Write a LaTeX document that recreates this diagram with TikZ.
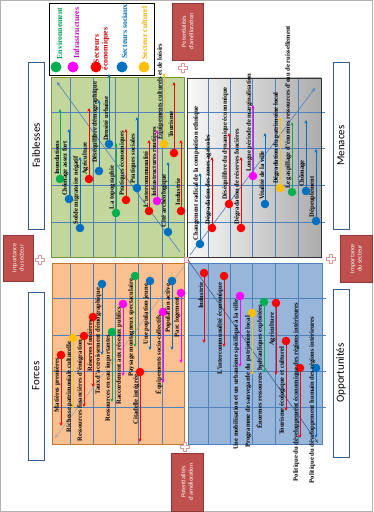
\documentclass[tikz,border=0pt]{standalone}
\usepackage{fontspec}
\setmainfont{Liberation Serif}
\newfontfamily\carl{Carlito}
\usetikzlibrary{arrows.meta,calc}
\definecolor{cgreen}{HTML}{00B050}
\definecolor{cmag}{HTML}{FF00FF}
\definecolor{cred}{HTML}{FF0000}
\definecolor{cblue}{HTML}{0070C0}
\definecolor{cyel}{HTML}{FFC000}
\definecolor{qgreen}{HTML}{C3D69B}
\definecolor{qgreenb}{HTML}{77933C}
\definecolor{qorange}{HTML}{FAC090}
\definecolor{qoranb}{HTML}{C07830}
\definecolor{qblue}{HTML}{98B6DA}
\definecolor{qblueb}{HTML}{4F81BD}
\definecolor{gridblue}{HTML}{4F81BD}
\definecolor{sideblue}{HTML}{385D8A}
\definecolor{redfill}{HTML}{C0504D}
\definecolor{redborder}{HTML}{8C3836}
\definecolor{pluspink}{HTML}{E09A9A}
\definecolor{legred}{HTML}{D00000}
\definecolor{legmag}{HTML}{C000C0}
\definecolor{leggreen}{HTML}{00A050}
\definecolor{legyel}{HTML}{F0B000}
\definecolor{diagdark}{HTML}{3A5F8F}
\tikzset{
  dotnode/.style={circle,inner sep=0,outer sep=0,minimum size=8.6bp,draw=none},
  itarrow/.style={line width=0.7bp,-{Stealth[length=3.6bp,width=3.2bp]}},
  itlabel/.style={rotate=90,inner sep=0,outer sep=0,font=\fontsize{6.6}{7}\selectfont\bfseries},
  gridline/.style={draw=gridblue,line width=0.6bp},
  sidebox/.style={rotate=90,draw=sideblue,line width=0.9bp,fill=white,inner sep=0,font=\carl\fontsize{11}{13}\selectfont},
  redbox/.style={rotate=90,draw=redborder,fill=redfill,line width=0.8bp,inner sep=0,text=white,align=center,font=\carl\fontsize{6.2}{7.4}\selectfont},
  legtext/.style={rotate=90,inner sep=0,align=center,font=\fontsize{7.8}{8.6}\selectfont\bfseries},
  legdot/.style={circle,inner sep=0,minimum size=11bp,draw=none},
  plusst/.style={draw=pluspink,fill=white,line width=0.8bp},
  diag/.style={line width=0.6bp,-{Stealth[length=4bp,width=3.5bp]}}
}
\newcommand\upit[7]{%
  \node[dotnode,fill=#2] (#1) at (#3,#4) {};
  \coordinate (#1tip) at (#3,#5);
  \draw[itarrow,color=#2] (#1) -- (#1tip);
  \node[itlabel,anchor=south west] (#1lab) at (#3-0.8,#6) {#7};
}
\newcommand\dnit[7]{%
  \node[dotnode,fill=#2] (#1) at (#3,#4) {};
  \coordinate (#1tip) at (#3,#5);
  \draw[itarrow,color=#2] (#1) -- (#1tip);
  \node[itlabel,anchor=south east] (#1lab) at (#3-0.8,#6) {#7};
}
\newcommand\plusat[1]{%
  \draw[plusst] ([shift={(-1.6,-4.6)}]#1) -- ++(3.2,0) -- ++(0,3) -- ++(3,0) -- ++(0,3.2) -- ++(-3,0) -- ++(0,3) -- ++(-3.2,0) -- ++(0,-3) -- ++(-3,0) -- ++(0,-3.2) -- ++(3,0) -- cycle;
}
\begin{document}
\begin{tikzpicture}[x=1bp,y=-1bp]
\useasboundingbox (0,0) rectangle (373,512);
\fill[white] (0,0) rectangle (373,512);
\draw[gray!60,line width=0.8bp] (0.4,0.4) rectangle (372.6,511.6);

% quadrants
\fill[qgreen] (51,77) rectangle (184,257);
\shade[left color=gray!5,right color=gray!65] (187,78) rectangle (321,257);
\fill[qorange] (52,263) rectangle (184,444);
\fill[qblue] (188,263) rectangle (322,444);

% grids
\foreach \gx in {70,93,115,138,162}{
  \draw[gridline] (\gx,77) -- (\gx,257);
  \draw[gridline] (\gx,263) -- (\gx,444);}
\foreach \gx in {208,230,252,275,298}{
  \draw[gridline] (\gx,78) -- (\gx,257);
  \draw[gridline] (\gx,263) -- (\gx,444);}
\foreach \gy in {112,148,185,222}{
  \draw[gridline] (51,\gy) -- (184,\gy);
  \draw[gridline] (187,\gy) -- (325,\gy);}
\foreach \gy in {298,335,371,407}{
  \draw[gridline] (52,\gy) -- (184,\gy);
  \draw[gridline] (188,\gy) -- (326,\gy);}

\draw[qgreenb,line width=0.9bp] (51,77) rectangle (184,257);
\draw[black!80,line width=0.8bp] (187,78) rectangle (321,257);
\draw[qoranb,line width=0.9bp] (52,263) rectangle (184,444);
\draw[qblueb,line width=0.9bp] (188,263) rectangle (322,444);

% centre mark
\draw[pluspink,fill=pluspink!25,line width=0.6bp] (184.2,257.6) rectangle (188.2,262.6);

% diagonals
\coordinate (dga) at (180,252); \coordinate (dgb) at (57,82);
\coordinate (dma) at (190,255); \coordinate (dmb) at (315,88);
\coordinate (doa) at (185,265); \coordinate (dob) at (55,438);
\coordinate (dba) at (188,260); \coordinate (dbb) at (318,443);
\draw[diag,gridblue] (dga) -- (dgb);
\draw[diag,gridblue] (dma) -- (dmb);
\draw[diag,gray!70] (doa) -- (dob);
\draw[diag,diagdark] (dba) -- (dbb);

% side label boxes
\node[sidebox,minimum width=167bp,minimum height=16bp] (faib) at (36,145.5) {Faiblesses};
\node[sidebox,minimum width=168bp,minimum height=16bp] (forc) at (36,376) {Forces};
\node[sidebox,minimum width=167bp,minimum height=16bp] (mena) at (341,145.5) {Menaces};
\node[sidebox,minimum width=168bp,minimum height=16bp] (oppo) at (341,373) {Opportunités};

% red boxes
\node[redbox,minimum width=57bp,minimum height=31bp] (rtop) at (187.5,31.5) {Potentialités\\d'amélioration};
\node[redbox,minimum width=58bp,minimum height=32bp] (rbot) at (187,482) {Potentialités\\d'amélioration};
\node[redbox,minimum width=46bp,minimum height=30bp] (rleft) at (18,258) {Importance\\du secteur};
\node[redbox,minimum width=47bp,minimum height=32bp] (rright) at (356,258.5) {Importance\\du secteur};

% plus signs
\coordinate (ptop) at (183,68);
\coordinate (pbot) at (185,447);
\coordinate (pleft) at (40,260);
\coordinate (pright) at (331,259);
\plusat{ptop}
\plusat{pbot}
\plusat{pleft}
\plusat{pright}

% legend
\draw[black,line width=0.8bp,fill=white] (49,3) rectangle (154,75);
\node[legdot,fill=cgreen] (l1) at (56,67) {};
\node[legdot,fill=cmag] (l2) at (73,67) {};
\node[legdot,fill=cred] (l3) at (96,67) {};
\node[legdot,fill=cblue] (l4) at (122,67) {};
\node[legdot,fill=cyel] (l5) at (144,67) {};
\node[legtext,text=leggreen] (lt1) at (59.5,33.5) {Environnement};
\node[legtext,text=legmag] (lt2) at (76.5,33) {Infrastructures};
\node[legtext,text=legred] (lt3) at (101.5,49) {Secteurs\\économiques};
\node[legtext,text=cblue] (lt4) at (124.5,31.5) {Secteurs sociaux};
\node[legtext,text=legyel] (lt5) at (144.5,33) {Secteur culturel};

% Faiblesses items
\upit{g1}{cgreen}{60}{179}{109}{175}{Inondations}
\upit{g2}{cblue}{69}{199}{129}{196}{Chômage assez fort}
\upit{g3}{cblue}{80}{228}{157}{224}{Solde migratoire négatif}
\upit{g4}{cred}{89}{179}{108}{175}{Agriculture}
\upit{g5}{cblue}{99}{171}{100}{163}{Déséquilibre démographique}
\upit{g6}{cblue}{109}{144}{74}{141}{Densité urbaine}
\upit{g7}{cgreen}{116}{213}{143}{209}{La topographie}
\upit{g8}{cred}{126}{200}{129}{196}{Pratiques économiques}
\upit{g9}{cblue}{137}{188}{117}{184}{Pratiques sociales}
\upit{g10}{cred}{149}{211}{140}{207}{L'intercommunalité}
\upit{g11}{cmag}{157}{201}{130}{197}{Infrastructures routières}
\upit{g12}{cyel}{164}{144}{73}{140}{Équipements culturels et de loisirs}
\upit{g13}{cred}{174}{153}{82}{138}{Tourisme}
\upit{g14}{cblue}{168}{232}{162}{227}{Cité archéologique}
\upit{g15}{cred}{181}{211}{140}{205}{Industrie}

% Menaces items
\upit{m1}{cblue}{200}{244}{173}{240}{Changement radical de la composition ethnique}
\upit{m2}{cred}{212}{228}{157}{224}{Dégradation des zones agricoles}
\upit{m3}{cred}{229}{204}{133}{200}{Déséquilibre du dynamique économique}
\upit{m4}{cred}{241}{228}{157}{224}{Dégradation de réserves foncières}
\upit{m5}{cmag}{253}{176}{105}{172}{Longue période de marginalisation}
\upit{m6}{cblue}{265}{204}{133}{200}{Vitalité de la ville}
\upit{m7}{cyel}{280}{188}{117}{184}{Dégradation du patrimoine local}
\upit{m8}{cgreen}{292}{192}{122}{189}{Le gaspillage d'énormes ressources d'eau de ruissellement}
\upit{m9}{cblue}{306}{191}{120}{187}{Chômage}
\upit{m10}{cblue}{316}{221}{149}{217}{Dépeuplement}

% Forces items
\dnit{o1}{cred}{61}{355}{426}{358}{Matières premières}
\dnit{o2}{cyel}{73}{338}{409}{342}{Richesse patrimoniale culturelle}
\dnit{o3}{cred}{84}{336}{407}{340}{Ressources financières d'émigration}
\dnit{o4}{cred}{93}{317}{387}{320}{Réserves foncières}
\dnit{o5}{cblue}{102}{284}{355}{288}{Taux d'accroissement démographique}
\dnit{o6}{cgreen}{112}{332}{402}{335}{Ressources en eau importantes}
\dnit{o7}{cmag}{123}{304}{376}{307}{Raccordement aux réseaux publics}
\dnit{o8}{cgreen}{135}{276}{347}{279}{Paysage montagneux spectaculaire}
\dnit{o9}{cred}{140}{372}{442}{375}{Citadelle intégrée}
\dnit{o10}{cblue}{150}{281}{350}{284}{Une population jeune}
\dnit{o11}{cmag}{163}{312}{383}{315}{Équipements socio-collectifs}
\dnit{o12}{cblue}{172}{281}{350}{284}{Population active}
\dnit{o13}{cmag}{181}{293}{363}{297}{Parc logement}

% Opportunites items
\dnit{b1}{cred}{204}{273}{343}{283}{Industrie}
\dnit{b2}{cred}{224}{276}{347}{283}{L'intercommunalité économique}
\dnit{b3}{cmag}{240}{296}{367}{300}{Une mobilisation et un urbanisme spécifique à la ville}
\dnit{b4}{cyel}{252}{313}{375}{316}{Programme de sauvegarde du patrimoine local}
\dnit{b5}{cgreen}{264}{302}{373}{305}{Énormes ressources hydrauliques exploitées}
\dnit{b6}{cred}{276}{303}{375}{313}{Agriculture}
\dnit{b7}{cred}{286}{341}{411}{347}{Tourisme écologique et culturel}
\dnit{b8}{cred}{300}{368}{438}{303}{Politique du développement économique des régions intérieures}
\dnit{b9}{cblue}{316}{368}{438}{317}{Politique du développement humain des régions intérieures}
\end{tikzpicture}
\end{document}
